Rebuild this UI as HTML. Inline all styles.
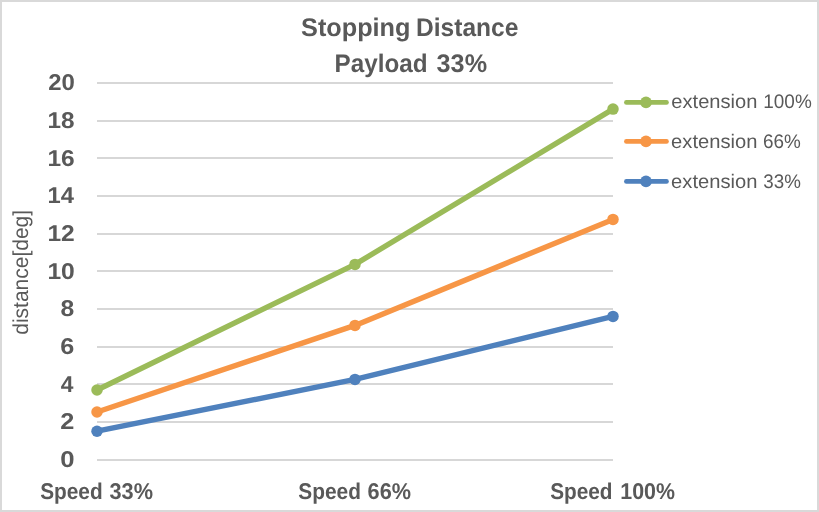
<!DOCTYPE html>
<html lang="en">
<head>
<meta charset="utf-8">
<title>Stopping Distance Payload 33%</title>
<style>
  html, body { margin: 0; padding: 0; background: #ffffff; }
  body { width: 819px; height: 512px; overflow: hidden; }
  svg { display: block; will-change: transform; }
  text { font-family: "Liberation Sans", sans-serif; fill: #595959; text-rendering: geometricPrecision; }
  .b { font-weight: bold; }
</style>
</head>
<body>
<svg width="819" height="512" viewBox="0 0 819 512">
  <!-- chart area + border -->
  <rect x="0" y="0" width="819" height="512" fill="#ffffff"/>
  <rect x="1" y="1" width="817" height="510" fill="none" stroke="#d9d9d9" stroke-width="2"/>

  <!-- horizontal gridlines -->
  <g stroke="#d7d7d7" stroke-width="2" shape-rendering="crispEdges">
    <line x1="97" x2="613" y1="83" y2="83"/>
    <line x1="97" x2="613" y1="121" y2="121"/>
    <line x1="97" x2="613" y1="158" y2="158"/>
    <line x1="97" x2="613" y1="196" y2="196"/>
    <line x1="97" x2="613" y1="234" y2="234"/>
    <line x1="97" x2="613" y1="271" y2="271"/>
    <line x1="97" x2="613" y1="309" y2="309"/>
    <line x1="97" x2="613" y1="347" y2="347"/>
    <line x1="97" x2="613" y1="384" y2="384"/>
    <line x1="97" x2="613" y1="422" y2="422"/>
    <line x1="97" x2="613" y1="460" y2="460"/>
  </g>

  <!-- chart title: Stopping Distance / Payload 33% -->
  <g class="b" font-size="25.4">
    <text x="301.07" y="36.4" textLength="109.42" lengthAdjust="spacingAndGlyphs">Stopping</text>
    <text x="416.06" y="36.4" textLength="102.38" lengthAdjust="spacingAndGlyphs">Distance</text>
    <text x="334.58" y="71.5" textLength="93.02" lengthAdjust="spacingAndGlyphs">Payload</text>
    <text x="436.62" y="71.5" textLength="50.44" lengthAdjust="spacingAndGlyphs">33%</text>
  </g>

  <!-- value axis labels -->
  <g class="b" font-size="22.8">
    <text x="48.17" y="90.2" textLength="26.61" lengthAdjust="spacingAndGlyphs">20</text>
    <text x="47.47" y="127.9" textLength="27.08" lengthAdjust="spacingAndGlyphs">18</text>
    <text x="47.46" y="165.6" textLength="27.23" lengthAdjust="spacingAndGlyphs">16</text>
    <text x="47.50" y="203.3" textLength="26.42" lengthAdjust="spacingAndGlyphs">14</text>
    <text x="47.45" y="241.0" textLength="27.33" lengthAdjust="spacingAndGlyphs">12</text>
    <text x="47.45" y="278.6" textLength="27.36" lengthAdjust="spacingAndGlyphs">10</text>
    <text x="60.42" y="316.4" textLength="13.74" lengthAdjust="spacingAndGlyphs">8</text>
    <text x="60.28" y="354.1" textLength="14.03" lengthAdjust="spacingAndGlyphs">6</text>
    <text x="60.86" y="391.8" textLength="12.67" lengthAdjust="spacingAndGlyphs">4</text>
    <text x="60.32" y="429.4" textLength="14.09" lengthAdjust="spacingAndGlyphs">2</text>
    <text x="60.19" y="467.1" textLength="14.27" lengthAdjust="spacingAndGlyphs">0</text>
  </g>

  <!-- value axis title -->
  <g font-size="21.6" transform="translate(27.5 333.9) rotate(-90)">
    <text x="-0.88" y="0.0" textLength="124.88" lengthAdjust="spacingAndGlyphs">distance[deg]</text>
  </g>

  <!-- category axis labels -->
  <g class="b" font-size="22.8">
    <text x="40.20" y="499.1" textLength="62.47" lengthAdjust="spacingAndGlyphs">Speed</text>
    <text x="109.50" y="499.1" textLength="43.47" lengthAdjust="spacingAndGlyphs">33%</text>
    <text x="298.30" y="499.1" textLength="62.58" lengthAdjust="spacingAndGlyphs">Speed</text>
    <text x="367.61" y="499.1" textLength="43.36" lengthAdjust="spacingAndGlyphs">66%</text>
    <text x="550.20" y="499.1" textLength="62.37" lengthAdjust="spacingAndGlyphs">Speed</text>
    <text x="620.36" y="499.1" textLength="54.61" lengthAdjust="spacingAndGlyphs">100%</text>
  </g>

  <!-- series lines -->
  <g fill="none" stroke-width="5.4" stroke-linecap="round" stroke-linejoin="round">
    <polyline stroke="#4f81bd" points="97,431.2 355,379.4 613,316.4"/>
    <polyline stroke="#f79646" points="97,412.0 355,325.4 613,219.4"/>
    <polyline stroke="#9bbb59" points="97,390.0 355,264.4 613,109.1"/>
  </g>
  <!-- series markers -->
  <g>
    <circle cx="97" cy="431.2" r="5.75" fill="#4f81bd"/><circle cx="355" cy="379.4" r="5.75" fill="#4f81bd"/><circle cx="613" cy="316.4" r="5.75" fill="#4f81bd"/>
    <circle cx="97" cy="412.0" r="5.75" fill="#f79646"/><circle cx="355" cy="325.4" r="5.75" fill="#f79646"/><circle cx="613" cy="219.4" r="5.75" fill="#f79646"/>
    <circle cx="97" cy="390.0" r="5.75" fill="#9bbb59"/><circle cx="355" cy="264.4" r="5.75" fill="#9bbb59"/><circle cx="613" cy="109.1" r="5.75" fill="#9bbb59"/>
  </g>

  <!-- legend -->
  <g stroke-width="4.7" stroke-linecap="round">
    <line x1="626.4" x2="666.5" y1="102.4" y2="102.4" stroke="#9bbb59"/>
    <line x1="626.4" x2="666.5" y1="141.4" y2="141.4" stroke="#f79646"/>
    <line x1="626.4" x2="666.5" y1="181.4" y2="181.4" stroke="#4f81bd"/>
  </g>
  <circle cx="646" cy="102.4" r="5.8" fill="#9bbb59"/>
  <circle cx="646" cy="141.4" r="5.8" fill="#f79646"/>
  <circle cx="646" cy="181.4" r="5.8" fill="#4f81bd"/>
  <g font-size="19.6">
    <text x="671.35" y="108.3" textLength="86.06" lengthAdjust="spacingAndGlyphs">extension</text>
    <text x="763.25" y="108.3" textLength="48.52" lengthAdjust="spacingAndGlyphs">100%</text>
    <text x="671.14" y="147.5" textLength="86.27" lengthAdjust="spacingAndGlyphs">extension</text>
    <text x="763.04" y="147.5" textLength="37.83" lengthAdjust="spacingAndGlyphs">66%</text>
    <text x="671.14" y="187.5" textLength="86.27" lengthAdjust="spacingAndGlyphs">extension</text>
    <text x="763.28" y="187.5" textLength="37.58" lengthAdjust="spacingAndGlyphs">33%</text>
  </g>
</svg>
</body>
</html>
